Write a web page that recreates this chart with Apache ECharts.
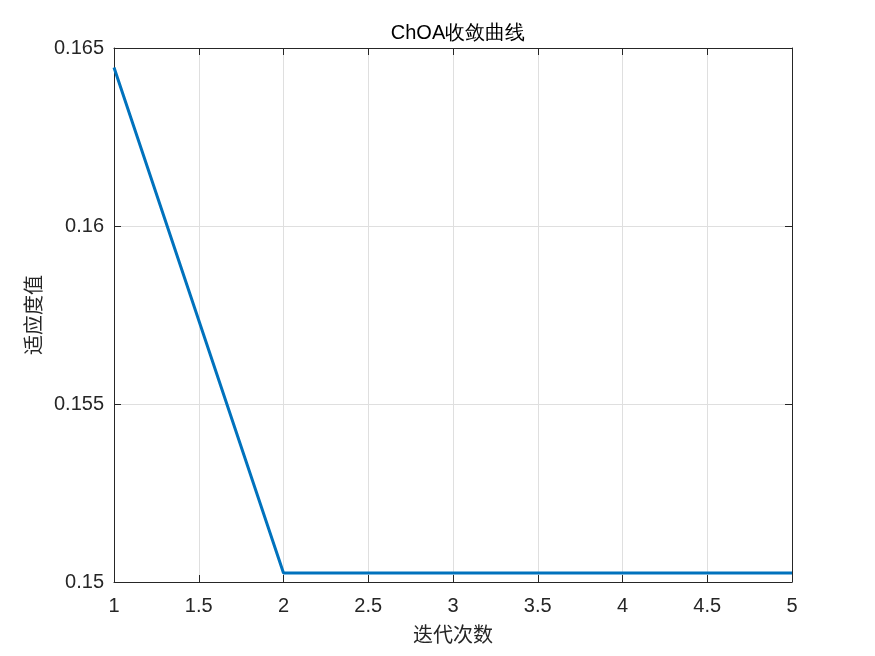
<!DOCTYPE html>
<html><head><meta charset="utf-8">
<script src="https://cdn.jsdelivr.net/npm/echarts@6/dist/echarts.min.js"></script>
<style>html,body{margin:0;padding:0;background:#fff}#c{width:875px;height:656px}</style>
</head><body><div id="c"></div>
<script>
const titleText = 'ChOA收敛曲线';
const xName = '迭代次数';
const yName = '适应度值';
const iterations = [1, 2, 3, 4, 5];
const fitness = [0.16445, 0.15025, 0.15025, 0.15025, 0.15025];
const xMin = 1, xMax = 5, xStep = 0.5;
const yMin = 0.15, yMax = 0.165, yStep = 0.005;

const chart = echarts.init(document.getElementById('c'));
const font = 'Liberation Sans, Arial, Helvetica, sans-serif';
const cjk = 'Noto Sans CJK SC, sans-serif';
const axisColor = '#262626';
const baseAxis = {
  axisLine: {show: true, lineStyle: {color: axisColor, width: 1}},
  axisTick: {show: true, inside: true, length: 7, lineStyle: {color: axisColor}},
};
chart.setOption({
  animation: false,
  title: {text: titleText, left: 453, top: 18, textAlign: 'center',
    textStyle: {fontFamily: font, fontSize: 20, fontWeight: 'normal', color: '#000'}},
  grid: {left: 114, right: 83, top: 48, bottom: 74, show: false},
  xAxis: [
    Object.assign({type: 'value', min: xMin, max: xMax, interval: xStep,
      name: xName, nameLocation: 'middle', nameGap: 42,
      nameTextStyle: {fontFamily: cjk, fontSize: 20, color: '#262626'},
      axisLabel: {fontFamily: font, fontSize: 20, color: '#262626', margin: 14,
        formatter: v => String(+v.toFixed(2))},
      splitLine: {show: true, lineStyle: {color: '#dfdfdf', width: 1}}}, baseAxis),
    Object.assign({type: 'value', position: 'top', min: xMin, max: xMax, interval: xStep,
      axisLabel: {show: false}, splitLine: {show: false}}, baseAxis)
  ],
  yAxis: [
    Object.assign({type: 'value', min: yMin, max: yMax, interval: yStep,
      name: yName, nameLocation: 'middle', nameGap: 70, nameRotate: 90,
      nameTextStyle: {fontFamily: cjk, fontSize: 20, color: '#262626'},
      axisLabel: {fontFamily: font, fontSize: 20, color: '#262626', margin: 10,
        formatter: v => String(+v.toFixed(3))},
      splitLine: {show: true, lineStyle: {color: '#dfdfdf', width: 1}}}, baseAxis),
    Object.assign({type: 'value', position: 'right', min: yMin, max: yMax, interval: yStep,
      axisLabel: {show: false}, splitLine: {show: false}}, baseAxis)
  ],
  series: [{
    type: 'line', data: iterations.map((x, i) => [x, fitness[i]]),
    showSymbol: false, symbol: 'none',
    lineStyle: {color: '#0072BD', width: 3}
  }]
});
</script></body></html>
